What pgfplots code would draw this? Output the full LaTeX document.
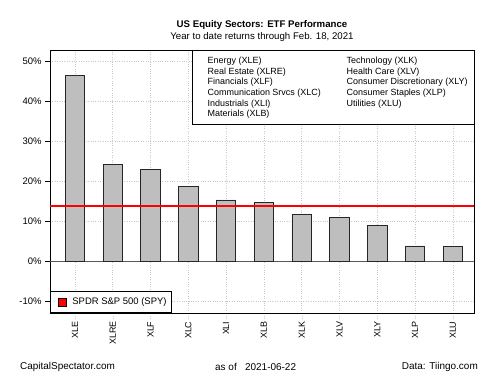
\documentclass[border=0pt]{standalone}
\usepackage{pgfplots}
\pgfplotsset{compat=1.18}
\usepackage{fontspec}
\setmainfont{Liberation Sans}
\definecolor{barfill}{HTML}{BEBEBE}
\definecolor{gridc}{HTML}{C8C8C8}
\begin{document}
\begin{tikzpicture}[x=1bp,y=1bp]
\useasboundingbox (0,0) rectangle (500,375);
\begin{axis}[
  at={(50bp,62bp)}, anchor=south west,
  scale only axis, width=424bp, height=263bp,
  xmin=-0.66, xmax=10.56, ymin=-12.9, ymax=52.9,
  xtick={0,...,10},
  xticklabels={XLE,XLRE,XLF,XLC,XLI,XLB,XLK,XLV,XLY,XLP,XLU},
  x tick label style={rotate=90, anchor=east, font=\fontsize{9}{10}\selectfont},
  ytick={-10,0,10,20,30,40,50},
  yticklabels={-10\%,0\%,10\%,20\%,30\%,40\%,50\%},
  y tick label style={font=\fontsize{9.5}{10}\selectfont},
  tick align=outside,
  major tick length=5bp,
  x tick style={gridc, dotted},
  y tick style={black},
  xtick pos=bottom, ytick pos=left,
  grid=major,
  major grid style={gridc, dotted, line width=0.6pt},
  axis line style={black, line width=0.8pt},
  legend style={at={(0,0)}, anchor=south west, draw=black, line width=0.8pt,
    font=\fontsize{9.5}{11}\selectfont, inner xsep=3bp, inner ysep=4.5bp, fill=white,
    legend cell align=left},
  legend image code/.code={\path[draw=none, fill=none] (0bp,0bp) -- (17bp,0bp);\path[fill=red, draw=black, line width=0.4pt] (4.5bp,-4bp) rectangle (13bp,4bp);},
]
\draw[gray!70!black, line width=0.8pt] (axis cs:-0.66,0) -- (axis cs:10.56,0);
\addplot[ybar, bar width=19.4bp, fill=barfill, draw=black!85, line width=0.7pt, forget plot]
 coordinates {(0,46.5) (1,24.2) (2,23.0) (3,18.8) (4,15.4) (5,14.7) (6,11.8) (7,11.0) (8,9.0) (9,3.9) (10,3.7)};
\addplot[red, line width=1.3pt] coordinates {(-0.66,13.9) (10.56,13.9)};
\addlegendentry{SPDR S\&P 500 (SPY)\hspace{5bp}}
\end{axis}
\draw[fill=white, draw=black, line width=0.8pt] (192,251) rectangle (474.5,325);
\begin{scope}[font=\fontsize{9}{10}\selectfont]
\foreach \t [count=\i from 0] in {Energy (XLE),Real Estate (XLRE),Financials (XLF),Communication Srvcs (XLC),Industrials (XLI),Materials (XLB)}
  \node[anchor=west, inner sep=0] at (207.5,{314-10.7*\i}) {\t};
\foreach \t [count=\i from 0] in {Technology (XLK),Health Care (XLV),Consumer Discretionary (XLY),Consumer Staples (XLP),Utilities (XLU)}
  \node[anchor=west, inner sep=0] at (346.5,{314-10.7*\i}) {\t};
\end{scope}
\node[font=\bfseries\fontsize{9.7}{11}\selectfont] at (262,350) {US Equity Sectors: ETF Performance};
\node[font=\fontsize{9.7}{11}\selectfont] at (262,337.5) {Year to date returns through Feb. 18, 2021};
\node[anchor=west, inner sep=0, font=\fontsize{10}{11}\selectfont] at (20,8) {CapitalSpectator.com};
\node[anchor=west, inner sep=0, font=\fontsize{10}{11}\selectfont] at (215,8) {as of\ \ \ 2021-06-22};
\node[anchor=east, inner sep=0, font=\fontsize{10}{11}\selectfont] at (478,8) {Data: Tiingo.com};
\end{tikzpicture}
\end{document}
